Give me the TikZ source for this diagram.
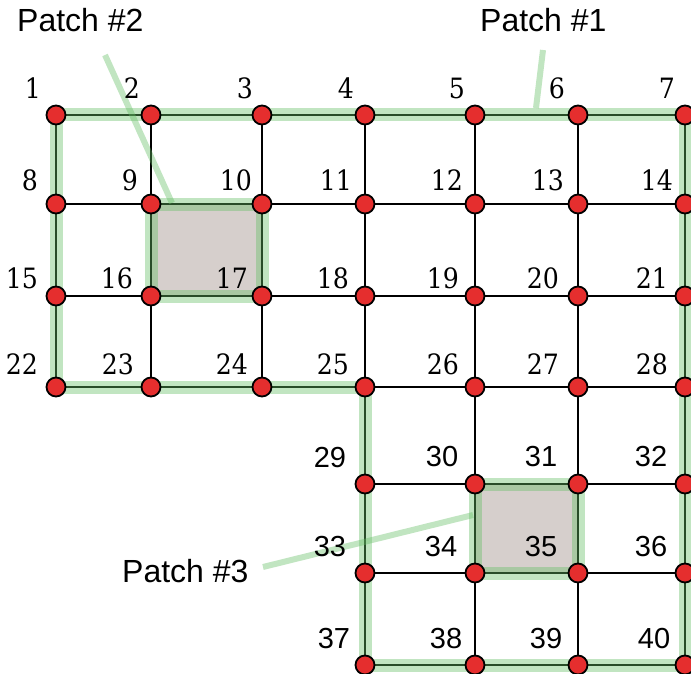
\documentclass[tikz,border=0pt]{standalone}
\usepackage{fontspec}
\newfontfamily\sansf{Liberation Sans}
\newfontfamily\serifnum{DejaVu Serif Condensed}
\pgfdeclarelayer{bg}
\pgfdeclarelayer{mid}
\pgfsetlayers{bg,mid,main}
\definecolor{vred}{RGB}{229,46,46}
\definecolor{bandgreen}{RGB}{100,190,100}
\definecolor{patchfill}{RGB}{214,207,204}
\begin{document}
\begin{tikzpicture}[x=1pt,y=-1pt,
  vtx/.style={circle,draw=black,line width=1.8pt,fill=vred,minimum size=19pt,inner sep=0pt},
  edge/.style={line width=1.8pt,draw=black},
  band/.style={line width=13pt,draw=bandgreen,draw opacity=0.4,line join=miter},
  leader/.style={line width=6pt,draw=bandgreen,draw opacity=0.4},
  numr/.style={font=\serifnum\fontsize{28}{28}\selectfont,inner sep=0pt},
  nums/.style={font=\sansf\fontsize{29}{29}\selectfont,inner sep=0pt},
  patchlbl/.style={font=\sansf\fontsize{32}{32}\selectfont,inner sep=0pt,anchor=base west}]
\useasboundingbox (0,0) rectangle (691,674);

% vertices of the mesh
\foreach \n/\x/\y in {
  1/56/115, 2/151/115, 3/262/115, 4/365/115, 5/475/115, 6/578/115, 7/685/115,
  8/56/204, 9/151/204, 10/262/204, 11/365/204, 12/475/204, 13/578/204, 14/685/204,
  15/56/296, 16/151/296, 17/262/296, 18/365/296, 19/475/296, 20/578/296, 21/685/296,
  22/56/387, 23/151/387, 24/262/387, 25/365/387, 26/475/387, 27/578/387, 28/685/387,
  29/365/484, 30/475/484, 31/578/484, 32/685/484,
  33/365/573, 34/475/573, 35/578/573, 36/685/573,
  37/365/665, 38/475/665, 39/578/665, 40/685/665}
  \node[vtx] (v\n) at (\x,\y) {};

% vertex numbers (serif in the upper block, sans in the lower block)
\foreach \n/\x/\y in {
  1/33/88, 2/132/88, 3/245/88, 4/346/88, 5/457/88, 6/557/88, 7/667/88,
  8/30/180, 9/130/180, 10/236/180, 11/336/180, 12/447/180, 13/548/180, 14/657/180,
  15/22/278, 16/117/278, 17/232/278, 18/333/278, 19/443/278, 20/543/278, 21/652/278,
  22/22/364, 23/118/364, 24/232/364, 25/333/364, 26/443/364, 27/543/364, 28/652/364}
  \node[numr] (l\n) at (\x,\y) {\n};
\foreach \n/\x/\y in {
  29/330/458, 30/442/457, 31/541/457, 32/651/457,
  33/330/547, 34/441/547, 35/541/547, 36/651/547,
  37/334/639, 38/446/639, 39/546/639, 40/654/639}
  \node[nums] (l\n) at (\x,\y) {\n};

% patch interiors
\begin{pgfonlayer}{bg}
  \fill[patchfill] (v9.center) rectangle (v17.center);
  \fill[patchfill] (v30.center) rectangle (v35.center);
\end{pgfonlayer}

% mesh edges
\begin{pgfonlayer}{bg}
  \foreach \a in {1,...,6,8,9,...,13,15,16,...,20,22,23,...,27,29,30,31,33,34,35,37,38,39}
    {\pgfmathtruncatemacro{\b}{\a+1}\draw[edge] (v\a) -- (v\b);}
  \foreach \a in {1,...,21}
    {\pgfmathtruncatemacro{\b}{\a+7}\draw[edge] (v\a) -- (v\b);}
  \foreach \a/\b in {25/29,26/30,27/31,28/32,29/33,30/34,31/35,32/36,33/37,34/38,35/39,36/40}
    \draw[edge] (v\a) -- (v\b);
\end{pgfonlayer}

% patch outlines and their leaders
\coordinate (c2) at (105,55);
\coordinate (e2) at (172,203);
\coordinate (c1) at (543,50);
\coordinate (e1) at (536,108);
\coordinate (c3) at (263,567);
\coordinate (e3) at (473,515);
\begin{pgfonlayer}{mid}
  \draw[band] (v1.center) -- (v7.center) -- (v40.center) -- (v37.center)
    -- (v25.center) -- (v22.center) -- cycle;
  \draw[band] (v9.center) -- (v10.center) -- (v17.center) -- (v16.center) -- cycle;
  \draw[band] (v30.center) -- (v31.center) -- (v35.center) -- (v34.center) -- cycle;
  \draw[leader] (c2) -- (e2);
  \draw[leader] (c1) -- (e1);
  \draw[leader] (c3) -- (e3);
\end{pgfonlayer}

\node[patchlbl] (p2) at (17,32) {Patch \#2};
\node[patchlbl] (p1) at (480,32) {Patch \#1};
\node[patchlbl] (p3) at (122,582) {Patch \#3};
\end{tikzpicture}
\end{document}
